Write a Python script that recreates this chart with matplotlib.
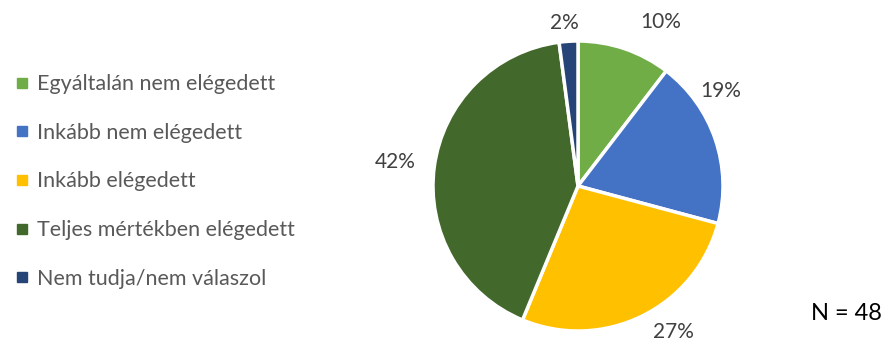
import numpy as np
import matplotlib.pyplot as plt
from matplotlib.lines import Line2D

# Válaszok (N = 48)
categories = ['Egyáltalán nem elégedett', 'Inkább nem elégedett', 'Inkább elégedett',
              'Teljes mértékben elégedett', 'Nem tudja/nem válaszol']
counts = [5, 9, 13, 20, 1]
colors = ['#70AD47', '#4472C4', '#FFC000', '#43682B', '#264478']
n_label = 'N = 48'

# címke elhelyezés (Excel "best fit" utánzása): szögeltolás fokban, távolság sugárban
label_shift = [-8, 15, 7, 0, 1]
label_dist = [1.27, 1.18, 1.2, 1.27, 1.13]

plt.rcParams['font.family'] = ['Lato', 'DejaVu Sans']

W, H = 889, 343
fig = plt.figure(figsize=(W / 100, H / 100), dpi=100)

# pie axes: center (578, 186), radius 145 px
cx, cy, r = 578, 186, 145
ax = fig.add_axes([(cx - r) / W, (H - cy - r) / H, 2 * r / W, 2 * r / H])

wedges, texts = ax.pie(
    counts, colors=colors, startangle=90, counterclock=False,
    wedgeprops=dict(edgecolor='white', linewidth=2.5))
total = sum(counts)
for w, c, sh, d in zip(wedges, counts, label_shift, label_dist):
    ang = np.deg2rad((w.theta1 + w.theta2) / 2 + sh)
    ax.text(d * np.cos(ang), d * np.sin(ang), f'{100 * c / total:.0f}%',
            ha='center', va='center', fontsize=15, color='#404040', clip_on=False)
ax.set_xlim(-1, 1)
ax.set_ylim(-1, 1)
ax.set_aspect('equal')

# legend
handles = [Line2D([0], [0], marker='s', linestyle='none', markersize=7,
                  markerfacecolor=c, markeredgecolor=c) for c in colors]
fig.legend(handles, categories, loc='upper left', bbox_to_anchor=(-0.002, (H - 57) / H),
           frameon=False, fontsize=15.5, labelcolor='#595959',
           handlelength=0.6, handletextpad=0.4, labelspacing=1.33, borderpad=0.3)

fig.text(882 / W, (H - 314) / H, n_label, ha='right', va='center', fontsize=17, color='black')

fig.savefig('out.png', dpi=100)
